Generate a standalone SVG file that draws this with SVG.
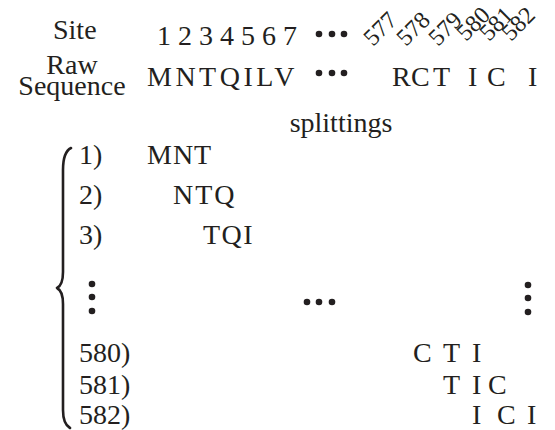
<svg xmlns="http://www.w3.org/2000/svg" width="555" height="430" viewBox="0 0 555 430" font-family="'Liberation Serif', 'Times New Roman', Times, 'DejaVu Serif', serif">
<style>
text{font-size:28px;fill:#231f20}
.num{font-size:24px}
.dot{fill:#231f20}
.brace{fill:none;stroke:#231f20;stroke-width:2.6;stroke-linecap:round;stroke-linejoin:round}
</style>
<rect width="555" height="430" fill="#fff"/>
<g id="header">
<text x="53" y="39">Site</text>
<text x="157" y="45" xml:space="preserve">1 2 3 4 5 6 7</text>
<text x="72" y="74" text-anchor="middle">Raw</text>
<text x="72" y="95" text-anchor="middle">Sequence</text>
<text x="147" y="86" letter-spacing="3.5">MNTQILV</text>
<g class="dot"><circle cx="319" cy="34" r="3.3"/><circle cx="332" cy="34" r="3.3"/><circle cx="344" cy="34" r="3.3"/>
<circle cx="319" cy="73" r="3.3"/><circle cx="332" cy="73" r="3.3"/><circle cx="344" cy="73" r="3.3"/></g>
<text class="num" transform="translate(373,47) rotate(-45)">577</text>
<text class="num" transform="translate(406,47) rotate(-45)">578</text>
<text class="num" transform="translate(438,47) rotate(-45)">579</text>
<text class="num" transform="translate(466,42) rotate(-45)">580</text>
<text class="num" transform="translate(489,42) rotate(-45)">581</text>
<text class="num" transform="translate(511,42) rotate(-45)">582</text>
<text y="86"><tspan x="392">R</tspan><tspan x="411">C</tspan><tspan x="433">T</tspan><tspan x="468">I</tspan><tspan x="487">C</tspan><tspan x="528">I</tspan></text>
<text x="341" y="132" text-anchor="middle">splittings</text>
</g>
<g id="brace">
<path class="brace" d="M71,148 Q63,152 63,170 L63,272 Q63,285 57,288 Q63,291 63,304 L63,410 Q63,424 70,428"/>
</g>
<g id="rows">
<text x="79" y="164">1)</text>
<text x="147" y="164" letter-spacing="1">MNT</text>
<text x="79" y="204">2)</text>
<text x="173" y="204" letter-spacing="2">NTQ</text>
<text x="79" y="244">3)</text>
<text x="203" y="244" letter-spacing="1.5">TQI</text>
<g class="dot">
<circle cx="92" cy="284" r="3.3"/><circle cx="92" cy="297" r="3.3"/><circle cx="92" cy="311" r="3.3"/>
<circle cx="307" cy="302" r="3.3"/><circle cx="319" cy="302" r="3.3"/><circle cx="332" cy="302" r="3.3"/>
<circle cx="528" cy="285" r="3.3"/><circle cx="528" cy="298" r="3.3"/><circle cx="528" cy="312" r="3.3"/>
</g>
<text x="79" y="362">580)</text>
<text y="362"><tspan x="413">C</tspan><tspan x="443">T</tspan><tspan x="472">I</tspan></text>
<text x="79" y="394">581)</text>
<text y="394"><tspan x="443">T</tspan><tspan x="472">I</tspan><tspan x="488">C</tspan></text>
<text x="79" y="424">582)</text>
<text y="424"><tspan x="472">I</tspan><tspan x="497">C</tspan><tspan x="527">I</tspan></text>
</g>
</svg>
